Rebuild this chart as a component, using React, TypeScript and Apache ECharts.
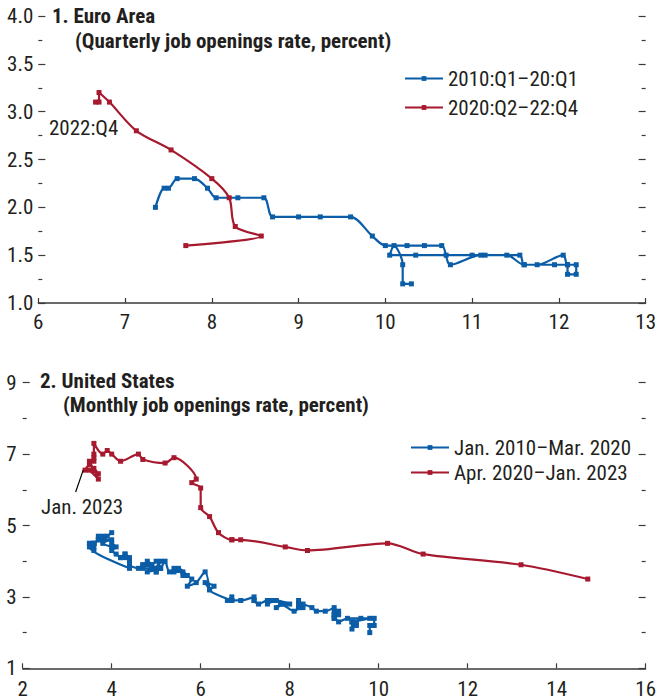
import React, { useEffect, useRef } from 'react';
import * as echarts from 'echarts';

// ---------- Data ----------
// Panel 1: Euro Area (quarterly). x = unemployment rate, y = job openings rate
const euroPreName = '2010:Q1\u201320:Q1';
const euroPostName = '2020:Q2\u201322:Q4';
const euroPreU = [10.3, 10.2, 10.2, 10.1, 10.05, 10.35, 10.7, 11.0, 11.15, 11.4, 11.6, 11.75, 12.05, 12.1, 12.2, 12.2, 12.1, 12.1, 11.95, 11.6, 11.55, 11.1, 10.75, 10.65, 10.45, 10.25, 10.0, 9.85, 9.6, 9.25, 9.0, 8.7, 8.6, 8.3, 8.05, 7.95, 7.8, 7.6, 7.5, 7.45, 7.35];
const euroPreV = [1.2, 1.2, 1.4, 1.6, 1.5, 1.5, 1.5, 1.5, 1.5, 1.5, 1.4, 1.4, 1.5, 1.4, 1.4, 1.3, 1.3, 1.4, 1.4, 1.4, 1.5, 1.5, 1.4, 1.6, 1.6, 1.6, 1.6, 1.7, 1.9, 1.9, 1.9, 1.9, 2.1, 2.1, 2.1, 2.2, 2.3, 2.3, 2.2, 2.2, 2.0];
const euroPostU = [7.7, 8.57, 8.27, 8.2, 8.0, 7.53, 7.13, 6.82, 6.7, 6.7, 6.66];
const euroPostV = [1.6, 1.7, 1.8, 2.1, 2.3, 2.6, 2.8, 3.1, 3.2, 3.1, 3.1];

// Panel 2: United States (monthly)
const usPreName = 'Jan. 2010\u2013Mar. 2020';
const usPostName = 'Apr. 2020\u2013Jan. 2023';
const usPreU = [
  9.8, 9.8, 9.9, 9.9, 9.6, 9.4, 9.4, 9.5, 9.5, 9.4, 9.8, 9.3,
  9.1, 9.0, 9.0, 9.1, 9.0, 9.1, 9.0, 9.0, 9.0, 8.8, 8.6, 8.5,
  8.3, 8.3, 8.2, 8.2, 8.2, 8.2, 8.2, 8.1, 7.8, 7.8, 7.7, 7.9,
  8.0, 7.7, 7.5, 7.6, 7.5, 7.5, 7.3, 7.2, 7.2, 7.2, 6.9, 6.7,
  6.6, 6.7, 6.7, 6.2, 6.3, 6.1, 6.2, 6.1, 5.9, 5.7, 5.8, 5.6,
  5.7, 5.5, 5.4, 5.4, 5.6, 5.3, 5.2, 5.1, 5.0, 5.0, 5.1, 5.0,
  4.8, 4.9, 5.0, 5.1, 4.8, 4.9, 4.8, 4.9, 5.0, 4.9, 4.7, 4.7,
  4.7, 4.6, 4.4, 4.4, 4.4, 4.3, 4.3, 4.4, 4.3, 4.2, 4.2, 4.1,
  4.0, 4.1, 4.0, 4.0, 3.8, 4.0, 3.8, 3.8, 3.7, 3.8, 3.8, 3.9,
  4.0, 3.8, 3.8, 3.7, 3.6, 3.6, 3.7, 3.6, 3.5, 3.6, 3.6, 3.6,
  3.5, 3.5, 4.4,
];
const usPreV = [
  2.0, 2.2, 2.2, 2.4, 2.4, 2.1, 2.3, 2.2, 2.3, 2.3, 2.4, 2.4,
  2.3, 2.5, 2.4, 2.5, 2.4, 2.6, 2.6, 2.5, 2.7, 2.6, 2.6, 2.7,
  2.8, 2.7, 2.9, 2.8, 2.7, 2.8, 2.7, 2.6, 2.8, 2.8, 2.7, 2.8,
  2.8, 2.9, 2.8, 2.9, 2.9, 2.9, 2.8, 2.9, 2.9, 3.0, 2.9, 2.9,
  2.9, 3.0, 2.9, 3.2, 3.3, 3.4, 3.2, 3.7, 3.4, 3.3, 3.5, 3.6,
  3.6, 3.8, 3.7, 3.8, 3.7, 3.7, 4.0, 3.8, 3.7, 3.8, 4.0, 3.8,
  3.9, 3.9, 4.0, 3.8, 3.7, 3.9, 4.0, 3.8, 3.7, 3.8, 3.8, 3.9,
  3.9, 3.8, 3.9, 3.9, 4.0, 4.2, 4.1, 4.1, 4.2, 4.1, 4.1, 4.2,
  4.3, 4.4, 4.5, 4.4, 4.5, 4.6, 4.6, 4.6, 4.7, 4.6, 4.6, 4.7,
  4.8, 4.6, 4.7, 4.6, 4.5, 4.5, 4.6, 4.5, 4.5, 4.4, 4.5, 4.3,
  4.5, 4.4, 3.8,
];
const usPostU = [14.7, 13.2, 11.0, 10.2, 8.4, 7.9, 6.9, 6.7, 6.7, 6.4, 6.2, 6.0, 6.0, 5.8, 5.9, 5.4, 5.2, 4.7, 4.6, 4.2, 4.0, 3.9, 3.8, 3.6, 3.6, 3.6, 3.6, 3.5, 3.7, 3.5, 3.7, 3.6, 3.5, 3.4];
const usPostV = [3.5, 3.9, 4.2, 4.5, 4.3, 4.4, 4.6, 4.6, 4.6, 4.8, 5.25, 5.5, 6.05, 6.2, 6.3, 6.9, 6.75, 6.85, 7.0, 6.8, 7.0, 7.1, 7.0, 7.3, 7.0, 6.9, 6.8, 6.8, 6.3, 6.55, 6.45, 6.6, 6.7, 6.55];

// Axis ticks
const euroXTicks = { min: 6, max: 13, interval: 1 };
const euroYTicks = { min: 1, max: 4, interval: 0.5 };
const usXTicks = { min: 2, max: 16, interval: 2 };
const usYMajor = [1, 3, 5, 7, 9];
const usYMinor = [2, 4, 6, 8];

// Annotation anchors (data coordinates)
const usLeaderFrom = [3.19, 5.94];
const usLeaderTo = [3.36, 6.55];

const BLUE = '#0A5DA6';
const RED = '#A6192E';
const INK = '#231F20';
const AXIS = '#3A3A3A';
const FONT = '"Liberation Sans Narrow", "Arial Narrow", "Roboto Condensed", "Liberation Sans", sans-serif';
const FS = 21;

const zip = (a: number[], b: number[]) => a.map((v, i) => [v, b[i]]);

export default function App() {
  const ref = useRef<HTMLDivElement>(null);
  useEffect(() => {
    if (!ref.current) return;
    const chart = echarts.init(ref.current, null, { renderer: 'svg' });

    const xBase = (grid: number, t: any) => ({
      type: 'value', gridIndex: grid, min: t.min, max: t.max, interval: t.interval,
      axisLine: { show: true, lineStyle: { color: AXIS, width: 1.5 } },
      axisTick: { show: true, inside: true, length: 5, lineStyle: { color: AXIS, width: 1.2 } },
      axisLabel: { color: INK, fontSize: FS, fontFamily: FONT, margin: grid === 0 ? 8 : 10 },
      splitLine: { show: false },
    });

    const tickStyle = { color: AXIS, width: 1.2 };

    const series: any[] = [
      {
        name: euroPreName, type: 'line', xAxisIndex: 0, yAxisIndex: 0,
        data: zip(euroPreU, euroPreV), smooth: 0.3, symbol: 'rect', symbolSize: 5,
        lineStyle: { color: BLUE, width: 2.2 }, itemStyle: { color: BLUE }, z: 3,
      },
      {
        name: euroPostName, type: 'line', xAxisIndex: 0, yAxisIndex: 0,
        data: zip(euroPostU, euroPostV), smooth: 0.3, symbol: 'rect', symbolSize: 5,
        lineStyle: { color: RED, width: 2.2 }, itemStyle: { color: RED }, z: 4,
      },
      {
        name: usPreName, type: 'line', xAxisIndex: 1, yAxisIndex: 2,
        data: zip(usPreU, usPreV), smooth: 0.25, symbol: 'rect', symbolSize: 5,
        lineStyle: { color: BLUE, width: 2.2 }, itemStyle: { color: BLUE }, z: 3,
      },
      {
        name: usPostName, type: 'line', xAxisIndex: 1, yAxisIndex: 2,
        data: zip(usPostU, usPostV), smooth: 0.3, symbol: 'rect', symbolSize: 5,
        lineStyle: { color: RED, width: 2.2 }, itemStyle: { color: RED }, z: 4,
        markLine: {
          silent: true, symbol: ['none', 'none'], label: { show: false },
          lineStyle: { color: '#000', width: 1.2, type: 'solid' },
          data: [[{ coord: usLeaderFrom }, { coord: usLeaderTo }]],
        },
      },
    ];

    const legendCommon = {
      orient: 'vertical', itemWidth: 38, itemHeight: 6,
      textStyle: { color: INK, fontSize: FS, fontFamily: FONT },
      selectedMode: false,
    };

    const txt = (x: number, y: number, text: string, bold = false) => ({
      type: 'text', x, y,
      style: { text, fill: INK, font: `${bold ? 'bold ' : ''}${FS}px ${FONT}`, verticalAlign: 'middle' },
    });

    chart.setOption({
      animation: false,
      grid: [
        { left: 38.3, right: 10, top: 16, bottom: 397 },
        { left: 22.7, right: 10, top: 382.7, bottom: 31.7 },
      ],
      xAxis: [xBase(0, euroXTicks), xBase(1, usXTicks)],
      yAxis: [
        {
          type: 'value', gridIndex: 0, position: 'left', ...euroYTicks,
          axisLine: { show: false },
          axisTick: { show: true, inside: true, length: 7, lineStyle: tickStyle },
          minorTick: { show: true, splitNumber: 2, length: 4, lineStyle: tickStyle },
          axisLabel: { color: INK, fontSize: FS, fontFamily: FONT, margin: 5, formatter: (v: number) => v.toFixed(1) },
          splitLine: { show: false },
        },
        {
          type: 'value', gridIndex: 0, position: 'right', ...euroYTicks,
          axisLine: { show: false },
          axisTick: { show: true, inside: true, length: 7, lineStyle: tickStyle },
          minorTick: { show: true, splitNumber: 2, length: 4, lineStyle: tickStyle },
          axisLabel: { show: false },
          splitLine: { show: false },
        },
        {
          type: 'value', gridIndex: 1, position: 'left', min: 1, max: 9, interval: 1,
          axisLine: { show: false },
          axisTick: { show: true, inside: true, length: 7, lineStyle: tickStyle, customValues: usYMajor },
          axisLabel: { color: INK, fontSize: FS, fontFamily: FONT, margin: 6, customValues: usYMajor },
          splitLine: { show: false },
        },
        {
          type: 'value', gridIndex: 1, position: 'left', min: 1, max: 9, interval: 1,
          axisLine: { show: false },
          axisTick: { show: true, inside: true, length: 4, lineStyle: tickStyle, customValues: usYMinor },
          axisLabel: { show: false },
          splitLine: { show: false },
        },
        {
          type: 'value', gridIndex: 1, position: 'right', min: 1, max: 9, interval: 1,
          axisLine: { show: false },
          axisTick: { show: true, inside: true, length: 7, lineStyle: tickStyle, customValues: usYMajor },
          axisLabel: { show: false },
          splitLine: { show: false },
        },
        {
          type: 'value', gridIndex: 1, position: 'right', min: 1, max: 9, interval: 1,
          axisLine: { show: false },
          axisTick: { show: true, inside: true, length: 4, lineStyle: tickStyle, customValues: usYMinor },
          axisLabel: { show: false },
          splitLine: { show: false },
        },
      ],
      legend: [
        { ...legendCommon, data: [euroPreName, euroPostName], left: 399, top: 63, itemGap: 8 },
        { ...legendCommon, data: [usPreName, usPostName], left: 405, top: 432, itemGap: 4 },
      ],
      graphic: [
        txt(52, 16, '1. Euro Area', true),
        txt(75, 41, '(Quarterly job openings rate, percent)', true),
        txt(40, 381, '2. United States', true),
        txt(63, 405, '(Monthly job openings rate, percent)', true),
        txt(49, 128, '2022:Q4'),
        txt(41, 507, 'Jan. 2023'),
      ],
      series,
    });

    return () => chart.dispose();
  }, []);

  return (
    <div
      ref={ref}
      style={{ position: 'fixed', left: 0, top: 0, width: 659, height: 700, background: '#fff' }}
    />
  );
}
